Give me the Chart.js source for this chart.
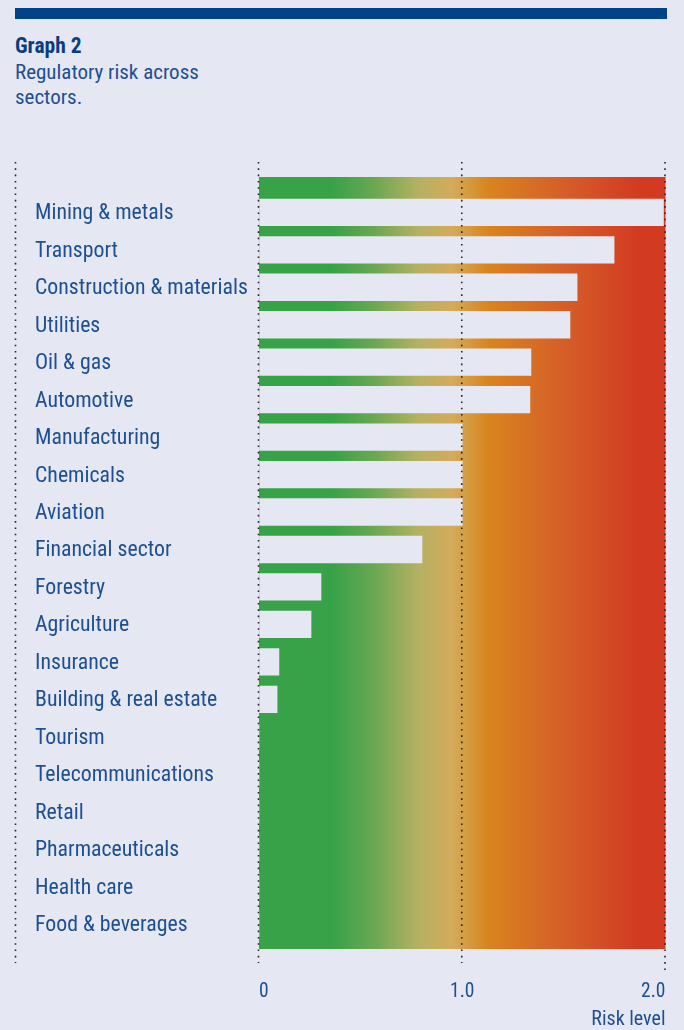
<!DOCTYPE html>
<html><head><meta charset="utf-8">
<script src="https://cdn.jsdelivr.net/npm/chart.js@4.4.1/dist/chart.umd.min.js"></script>
<style>
html,body{margin:0;padding:0;background:#e5e7f2;}
#wrap{position:relative;width:684px;height:1030px;overflow:hidden;background:#e5e7f2;}
#topbar{position:absolute;left:15px;top:8px;width:652px;height:11px;background:#004187;}
#title{position:absolute;left:15px;top:34.5px;font:bold 21.5px/21px 'Roboto Condensed',sans-serif;color:#0b3d7e;white-space:nowrap;}
#sub{position:absolute;left:15px;top:59.8px;font:21px/25px 'Roboto Condensed',sans-serif;color:#1d4f91;}
canvas{position:absolute;left:0;top:0;}
</style></head>
<body><div id="wrap">
<div id="topbar"></div>
<div id="title">Graph 2</div>
<div id="sub">Regulatory risk across<br>sectors.</div>
<canvas id="c" width="684" height="1030"></canvas>
</div>
<script>
const categories = ['Mining & metals','Transport','Construction & materials','Utilities','Oil & gas','Automotive','Manufacturing','Chemicals','Aviation','Financial sector','Forestry','Agriculture','Insurance','Building & real estate','Tourism','Telecommunications','Retail','Pharmaceuticals','Health care','Food & beverages'];
const riskLevel = [1.99,1.747,1.565,1.53,1.338,1.333,1.0,1.0,1.0,0.802,0.305,0.256,0.098,0.089,0,0,0,0,0,0];
const xTickValues = [0,1,2];
const xTickLabels = ['0','1.0','2.0'];
const axisTitle = 'Risk level';

const FONT = "'Roboto Condensed', sans-serif";
const TEXT = '#1d4f91';
const BG = '#e5e7f2';
const gradientStops = [[0,'#37a248'],[0.36,'#38a248'],[0.56,'#68a752'],[0.78,'#b4b162'],[0.95,'#d3ab5b'],[1.13,'#d9841e'],[1.5,'#d55e28'],[1.87,'#d23b22'],[2,'#d23a22']];

const backdrop = {
  id:'backdrop',
  beforeDatasetsDraw(chart){
    const {ctx, chartArea:{top,bottom}, scales:{x}} = chart;
    const x0 = x.getPixelForValue(xTickValues[0]);
    const x2 = x.getPixelForValue(xTickValues[xTickValues.length-1]);
    const g = ctx.createLinearGradient(x0,0,x2,0);
    gradientStops.forEach(([v,c])=>g.addColorStop(v/2,c));
    ctx.save(); ctx.fillStyle=g; ctx.fillRect(x0,top,x2-x0,bottom-top); ctx.restore();
  }
};
const dots = {
  id:'dots',
  afterDatasetsDraw(chart){
    const {ctx, chartArea:{top,bottom}, scales:{x,y}} = chart;
    ctx.save(); ctx.strokeStyle='#262626'; ctx.lineWidth=1.6; ctx.setLineDash([1.6,4.7]);
    const line=(px,y1,y2)=>{ctx.beginPath();ctx.moveTo(px,y1);ctx.lineTo(px,y2);ctx.stroke();};
    line(y.left-19.5, top-15, bottom+14);
    xTickValues.forEach((v,i)=>line(x.getPixelForValue(v)-0.5, top-15, bottom + (i===xTickValues.length-1?21:14)));
    ctx.restore();
  }
};

new Chart(document.getElementById('c'), {
  type:'bar',
  data:{datasets:[{
    data: categories.map((c,i)=>({x:riskLevel[i], y:i})),
    backgroundColor: BG, borderWidth:0, barThickness:26.7
  }]},
  options:{
    indexAxis:'y', responsive:false, animation:false, devicePixelRatio:1,
    layout:{padding:{left:35,right:18.5,top:177,bottom:0}},
    plugins:{legend:{display:false}, tooltip:{enabled:false}},
    scales:{
      y:{
        type:'linear', position:'left', reverse:true, offset:false, min:-0.944, max:19.666,
        afterBuildTicks:(s)=>{ s.ticks = categories.map((c,i)=>({value:i})); },
        afterFit:(s)=>{ s.width = 224; },
        grid:{display:false, drawTicks:false}, border:{display:false},
        ticks:{crossAlign:'far', padding:0, autoSkip:false, color:TEXT, labelOffset:1.5,
          font:{family:FONT, size:21.8},
          callback:(v)=>categories[v]}
      },
      x:{
        type:'linear', position:'bottom', min:0, max:2,
        afterBuildTicks:(s)=>{ s.ticks = xTickValues.map(v=>({value:v})); },
        afterFit:(s)=>{ s.height = 81; },
        grid:{display:true, drawOnChartArea:false, drawTicks:true, tickLength:31, color:'rgba(0,0,0,0)'},
        border:{display:false},
        ticks:{align:'inner', padding:0, color:TEXT, font:{family:FONT, size:19.5},
          callback:(v)=>xTickLabels[xTickValues.indexOf(v)]},
        title:{display:true, text:axisTitle, align:'end', color:TEXT,
          font:{family:FONT, size:20, lineHeight:1}, padding:{top:0,bottom:0.5}}
      }
    }
  },
  plugins:[backdrop, dots]
});
</script>
</body></html>
